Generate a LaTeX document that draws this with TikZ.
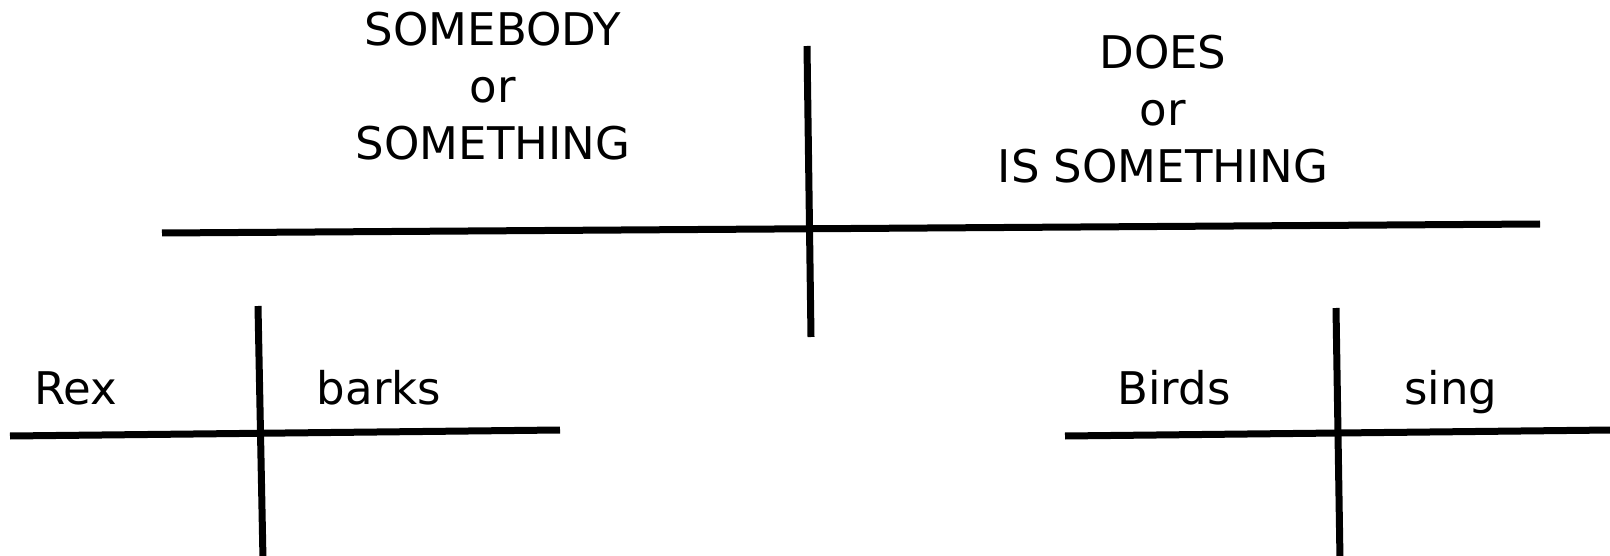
\documentclass[tikz,border=0pt]{standalone}
\usepackage{fontspec}
\setmainfont{DejaVu Sans}
\usetikzlibrary{positioning}

\begin{document}
\begin{tikzpicture}[
    x=1pt, y=-1pt,
    bar/.style={draw=black, line width=7pt},
    word/.style={inner sep=0pt, anchor=base, font=\fontsize{45}{57}\selectfont},
    head/.style={inner sep=0pt, anchor=north, align=center, font=\fontsize{45}{57}\selectfont}
]
\useasboundingbox (0,0) rectangle (1610,556);

% --- Kopfzeilen ---
\node[head] (subj) at (493,12) {SOMEBODY\\or\\SOMETHING};
\node[head] (pred) at (1163,35) {DOES\\or\\IS SOMETHING};

% --- Beispiele ---
\node[word] (rex) at (76,404) {Rex};
\node[word] (barks) at (379,404) {barks};
\node[word] (birds) at (1174,404) {Birds};
\node[word] (sing) at (1451,404) {sing};

% Endpunkte der Linien
\coordinate (main_l) at (162,233);
\coordinate (main_r) at (1540,224);
\coordinate (main_t) at (807,46);
\coordinate (main_b) at (811,337);

\coordinate (rex_l) at (10,436);
\coordinate (rex_r) at (560,430);
\coordinate (rex_t) at (258,306);
\coordinate (rex_b) at (263,560);

\coordinate (birds_l) at (1065,436);
\coordinate (birds_r) at (1612,430);
\coordinate (birds_t) at (1336,308);
\coordinate (birds_b) at (1340,560);

% --- Linien ---
\draw[bar] (main_l) -- (main_r);
\draw[bar] (main_t) -- (main_b);

\draw[bar] (rex_l) -- (rex_r);
\draw[bar] (rex_t) -- (rex_b);

\draw[bar] (birds_l) -- (birds_r);
\draw[bar] (birds_t) -- (birds_b);

\end{tikzpicture}
\end{document}
